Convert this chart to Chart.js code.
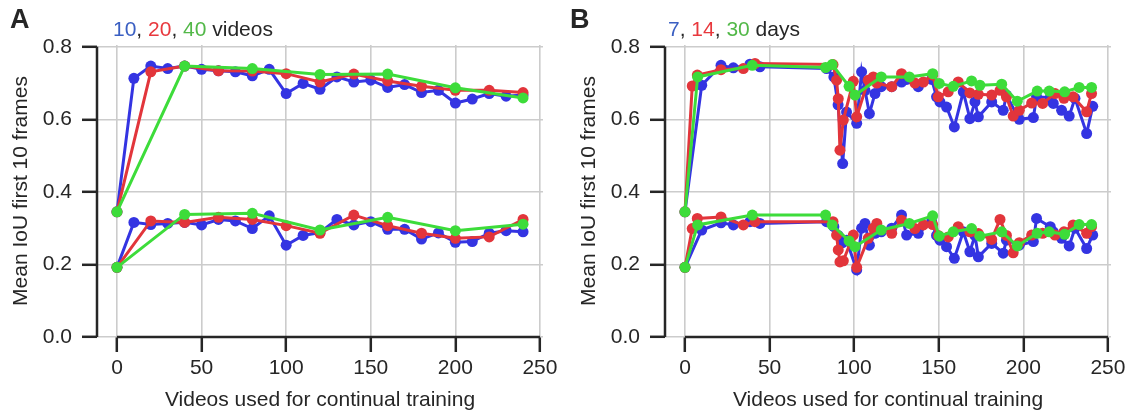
<!DOCTYPE html>
<html>
<head>
<meta charset="utf-8">
<script src="https://cdn.jsdelivr.net/npm/chart.js@4.4.0/dist/chart.umd.min.js"></script>
<style>
  body { margin: 0; background: #fff; width: 1131px; height: 417px; overflow: hidden; position: relative; }
  .panel { position: absolute; top: 0; width: 563px; height: 417px; }
  #panelA { left: 0; }
  #panelB { left: 568px; }
</style>
</head>
<body>
<div class="panel" id="panelA"><canvas id="chartA"></canvas></div>
<div class="panel" id="panelB"><canvas id="chartB"></canvas></div>
<script>
'use strict';

// A: retrain every 10 / 20 / 40 videos
let xA10 = [0, 10, 20, 30, 40, 50, 60, 70, 80, 90, 100, 110, 120, 130, 140, 150, 160, 170, 180, 190, 200, 210, 220, 230, 240];
let topA10 = [0.345, 0.713, 0.747, 0.740, 0.747, 0.738, 0.734, 0.731, 0.720, 0.738, 0.671, 0.699, 0.683, 0.717, 0.703, 0.708, 0.688, 0.696, 0.674, 0.680, 0.645, 0.656, 0.671, 0.664, 0.667];
let lowA10 = [0.192, 0.316, 0.310, 0.313, 0.316, 0.309, 0.324, 0.320, 0.299, 0.334, 0.253, 0.280, 0.288, 0.324, 0.309, 0.318, 0.297, 0.297, 0.270, 0.287, 0.261, 0.263, 0.286, 0.293, 0.290];
let xA20 = [0, 20, 40, 60, 80, 100, 120, 140, 160, 180, 200, 220, 240];
let topA20 = [0.345, 0.731, 0.747, 0.734, 0.733, 0.726, 0.703, 0.725, 0.706, 0.691, 0.680, 0.680, 0.674];
let lowA20 = [0.192, 0.320, 0.316, 0.330, 0.324, 0.307, 0.286, 0.336, 0.307, 0.286, 0.272, 0.276, 0.324];
let xA40 = [0, 40, 80, 120, 160, 200, 240];
let topA40 = [0.345, 0.747, 0.740, 0.724, 0.725, 0.687, 0.659];
let lowA40 = [0.192, 0.338, 0.341, 0.295, 0.330, 0.293, 0.311];

// B: retrain every 7 / 14 / 30 days
let xB7 = [0, 9.9, 21.3, 28.6, 38.4, 44.3, 83.7, 88, 90.5, 93.2, 95.5, 101.5, 104.4, 106.4, 109, 112.3, 116, 122.2, 128, 131, 137.9, 145.8, 148.7, 150.7, 154.6, 159.2, 164.5, 168.4, 171.4, 173.4, 181.3, 188.1, 190, 197.6, 205.9, 207.8, 215.9, 217.7, 222.6, 227.1, 230.5, 237.4, 241];
let topB7 = [0.345, 0.694, 0.749, 0.742, 0.752, 0.745, 0.740, 0.717, 0.640, 0.478, 0.620, 0.589, 0.731, 0.680, 0.616, 0.671, 0.690, 0.690, 0.703, 0.710, 0.690, 0.710, 0.662, 0.648, 0.634, 0.579, 0.676, 0.602, 0.648, 0.607, 0.648, 0.625, 0.667, 0.600, 0.605, 0.662, 0.660, 0.644, 0.625, 0.609, 0.658, 0.561, 0.636];
let lowB7 = [0.192, 0.295, 0.315, 0.309, 0.318, 0.313, 0.318, 0.304, 0.280, 0.260, 0.267, 0.185, 0.300, 0.313, 0.253, 0.286, 0.290, 0.300, 0.336, 0.281, 0.286, 0.318, 0.280, 0.267, 0.249, 0.217, 0.290, 0.235, 0.280, 0.221, 0.258, 0.231, 0.267, 0.253, 0.263, 0.327, 0.304, 0.290, 0.272, 0.251, 0.300, 0.244, 0.281];
let xB14 = [0, 4.3, 7.3, 21.3, 34.5, 41.4, 87.5, 89.6, 90.6, 91.6, 93.6, 99.5, 101.5, 108.3, 111.3, 113.4, 122.2, 128, 135.9, 140.9, 146.4, 149.7, 155.6, 161.5, 168.4, 173.4, 181.3, 186.2, 190, 194, 197.6, 204.9, 211.4, 218.7, 224, 229.4, 237.4, 240.3];
let topB14 = [0.345, 0.692, 0.722, 0.737, 0.740, 0.754, 0.751, 0.708, 0.657, 0.515, 0.598, 0.705, 0.607, 0.708, 0.717, 0.700, 0.690, 0.726, 0.700, 0.703, 0.722, 0.662, 0.676, 0.703, 0.673, 0.669, 0.667, 0.680, 0.662, 0.609, 0.625, 0.645, 0.644, 0.671, 0.658, 0.662, 0.621, 0.671];
let lowB14 = [0.192, 0.299, 0.327, 0.331, 0.309, 0.318, 0.318, 0.281, 0.240, 0.207, 0.210, 0.281, 0.192, 0.272, 0.300, 0.313, 0.286, 0.322, 0.299, 0.309, 0.310, 0.280, 0.276, 0.304, 0.290, 0.285, 0.269, 0.324, 0.280, 0.232, 0.260, 0.281, 0.286, 0.281, 0.290, 0.309, 0.286, 0.304];
let xB30 = [0, 7.5, 39.8, 83.1, 87, 97, 100.5, 116, 132.6, 146.4, 150.3, 158.6, 169.4, 174.3, 187.2, 196.4, 208.2, 215.3, 224.4, 233, 240.3];
let topB30 = [0.345, 0.717, 0.749, 0.743, 0.751, 0.691, 0.667, 0.717, 0.717, 0.726, 0.699, 0.691, 0.706, 0.694, 0.697, 0.650, 0.678, 0.678, 0.676, 0.688, 0.688];
let lowB30 = [0.192, 0.309, 0.336, 0.336, 0.309, 0.265, 0.249, 0.295, 0.313, 0.334, 0.278, 0.290, 0.299, 0.278, 0.290, 0.251, 0.286, 0.290, 0.283, 0.310, 0.310];

let xTicks = [0, 50, 100, 150, 200, 250];
let yTicks = [0, 0.2, 0.4, 0.6, 0.8];

let ink = '#262626';
let font = '"Liberation Sans", Arial, sans-serif';
let blue = '#3434e2';
let red = '#e2353b';
let green = '#3ddc3a';

function pts(xs, ys) {
    return xs.map(function (x, i) { return { x: x, y: ys[i] }; });
}

function series(xs, ys, color, order) {
    return {
        data: pts(xs, ys),
        borderColor: color,
        backgroundColor: color,
        pointBackgroundColor: color,
        pointBorderWidth: 0,
        pointRadius: 5.5,
        pointHoverRadius: 5.5,
        borderWidth: 3,
        tension: 0,
        order: order
    };
}

// trimmed spines, panel letter and the coloured heading
let frame = {
    id: 'frame',
    afterDraw(chart, args, opts) {
        let ctx = chart.ctx;
        let sx = chart.scales.x, sy = chart.scales.y;
        ctx.save();
        ctx.strokeStyle = ink;
        ctx.lineWidth = 2.5;
        ctx.beginPath();
        ctx.moveTo(sx.getPixelForValue(xTicks[0]), sy.bottom);
        ctx.lineTo(sx.getPixelForValue(xTicks[xTicks.length - 1]), sy.bottom);
        ctx.moveTo(sx.left, sy.getPixelForValue(yTicks[0]));
        ctx.lineTo(sx.left, sy.getPixelForValue(yTicks[yTicks.length - 1]));
        ctx.stroke();

        ctx.fillStyle = ink;
        ctx.textBaseline = 'alphabetic';
        ctx.font = 'bold 27px ' + font;
        ctx.fillText(opts.letter, opts.letterX, 28);

        ctx.font = '21px ' + font;
        let x = opts.titleX;
        opts.parts.forEach(function (p) {
            ctx.fillStyle = p[1];
            ctx.fillText(p[0], x, 36);
            x += ctx.measureText(p[0]).width;
        });
        ctx.restore();
    }
};

function makeChart(id, datasets, header) {
    return new Chart(document.getElementById(id), {
        type: 'line',
        data: { datasets: datasets },
        options: {
            responsive: true,
            maintainAspectRatio: false,
            animation: false,
            events: [],
            layout: { padding: { left: 0, right: 20, top: 45, bottom: 0 } },
            plugins: {
                legend: { display: false },
                tooltip: { enabled: false },
                frame: header
            },
            scales: {
                x: {
                    type: 'linear',
                    min: -11.8,
                    max: 251.8,
                    border: { display: false },
                    grid: { color: '#cccccc', lineWidth: 1.6, tickColor: ink, tickWidth: 2.5, tickLength: 15 },
                    ticks: { color: ink, font: { family: font, size: 21 }, padding: 4, maxRotation: 0 },
                    afterBuildTicks: function (s) { s.ticks = xTicks.map(function (v) { return { value: v }; }); },
                    afterFit: function (s) { s.height = 80; },
                    title: {
                        display: true,
                        text: 'Videos used for continual training',
                        color: ink,
                        font: { family: font, size: 21 },
                        padding: { top: 0, bottom: 4 }
                    }
                },
                y: {
                    min: 0,
                    max: 0.805,
                    border: { display: false },
                    grid: { color: '#cccccc', lineWidth: 1.6, tickColor: ink, tickWidth: 2.5, tickLength: 15 },
                    ticks: {
                        color: ink,
                        font: { family: font, size: 21 },
                        padding: 10,
                        callback: function (v) { return v.toFixed(1); }
                    },
                    afterBuildTicks: function (s) { s.ticks = yTicks.map(function (v) { return { value: v }; }); },
                    afterFit: function (s) { s.width = 97; },
                    title: {
                        display: true,
                        text: 'Mean IoU first 10 frames',
                        color: ink,
                        font: { family: font, size: 21 },
                        padding: { top: 9, bottom: 0 }
                    }
                }
            }
        },
        plugins: [frame]
    });
}

makeChart('chartA', [
    series(xA10, topA10, blue, 3),
    series(xA10, lowA10, blue, 3),
    series(xA20, topA20, red, 2),
    series(xA20, lowA20, red, 2),
    series(xA40, topA40, green, 1),
    series(xA40, lowA40, green, 1)
], {
    letter: 'A', letterX: 10, titleX: 113,
    parts: [['10', '#3a5fc2'], [', ', ink], ['20', '#e8383d'], [', ', ink], ['40', '#52b848'], [' videos', ink]]
});

makeChart('chartB', [
    series(xB7, topB7, blue, 3),
    series(xB7, lowB7, blue, 3),
    series(xB14, topB14, red, 2),
    series(xB14, lowB14, red, 2),
    series(xB30, topB30, green, 1),
    series(xB30, lowB30, green, 1)
], {
    letter: 'B', letterX: 2, titleX: 100,
    parts: [['7', '#3a5fc2'], [', ', ink], ['14', '#e8383d'], [', ', ink], ['30', '#52b848'], [' days', ink]]
});
</script>
</body>
</html>
